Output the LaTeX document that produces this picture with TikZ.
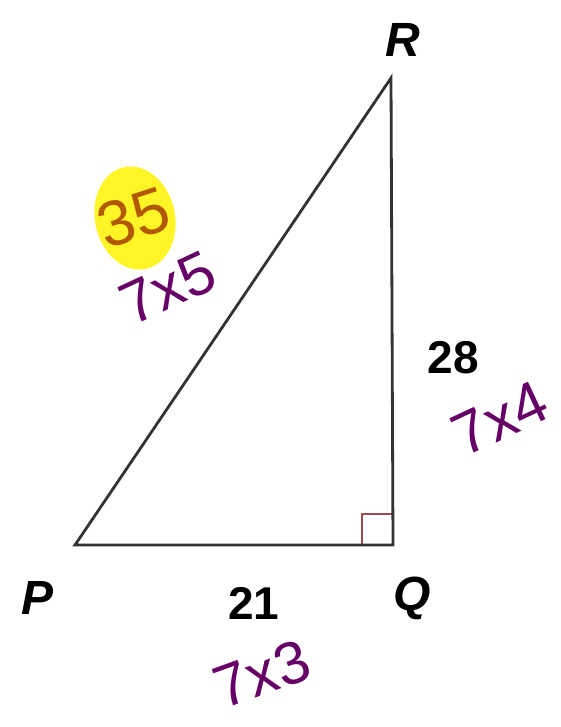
\documentclass[tikz,border=0pt]{standalone}
\usepackage{fontspec}
\setmainfont{Liberation Sans}
\begin{document}
\begin{tikzpicture}[x=1pt,y=-1pt,
  side/.style={draw=black!80, line width=2.8pt, line join=miter},
  rightmark/.style={draw=red!45!black!70, line width=1.6pt},
  vlabel/.style={font=\fontsize{48}{48}\selectfont\bfseries\itshape, inner sep=0pt},
  slabel/.style={font=\fontsize{46}{46}\selectfont\bfseries, inner sep=0pt},
  hand/.style={text=violet!80!black, font=\fontsize{60}{60}\selectfont, inner sep=0pt},
]
\useasboundingbox (0,0) rectangle (561,727);
\coordinate (P) at (75,545);
\coordinate (Q) at (393,545);
\coordinate (R) at (391,78);
% highlight
\fill[yellow!85!white, rotate around={12:(135,218)}] (135,218) ellipse [x radius=40, y radius=52];
% right-angle mark
\draw[rightmark] (Q) ++(-31,0) -- ++(0,-31) -- ++(31,0);
% triangle
\draw[side] (P) -- (Q) -- (R) -- cycle;
% vertex labels
\node[vlabel] (lR) at (403,40) {R};
\node[vlabel] (lP) at (38,598) {P};
\node[vlabel] (lQ) at (412,598) {Q};
% side labels
\node[slabel] (l28) at (453,358) {28};
\node[slabel] (l21) at (254,603) {21};
% handwritten annotations
\node[hand, text=orange!70!black, rotate=18, font=\fontsize{64}{64}\selectfont] (h35) at (134,218) {35};
\node[hand, rotate=25] (h75) at (168,288) {7x5};
\node[hand, rotate=25] (h74) at (500,418) {7x4};
\node[hand, rotate=20] (h73) at (262,674) {7x3};
\end{tikzpicture}
\end{document}
